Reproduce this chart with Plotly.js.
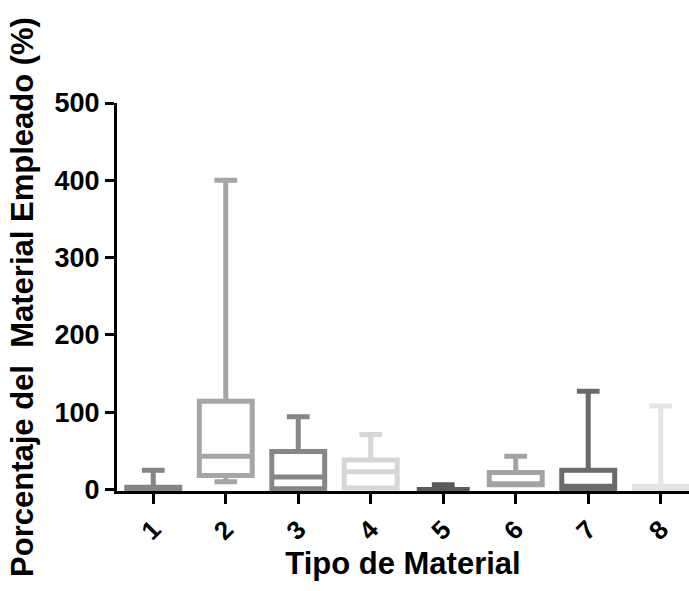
<!DOCTYPE html>
<html>
<head>
<meta charset="utf-8">
<script src="https://cdn.plot.ly/plotly-3.0.1.min.js"></script>
<style>
  html, body { margin: 0; padding: 0; background: #ffffff; }
  #chart { width: 689px; height: 591px; }
</style>
</head>
<body>
<div id="chart"></div>
<script>
// Data
const categories = ['1', '2', '3', '4', '5', '6', '7', '8'];
const lowerFence = [0, 10, 1, 2, 0, 6, 0, 0];
const q1Values = [0, 18, 1, 2, 0, 6, 0, 0];
const medianValues = [1, 43, 16, 23, 0, 7, 4, 2];
const q3Values = [3, 114, 49, 38, 0, 22, 25, 4];
const upperFence = [25, 400, 94, 71, 6, 43, 127, 108];
const boxColors = ['#858585', '#a5a5aa', '#878787', '#d6d6d6', '#5a5a5a', '#a3a3a3', '#6b6b6b', '#e5e5e5'];

const fontFamily = '"Liberation Sans", Arial, Helvetica, sans-serif';

const traces = categories.map((c, i) => ({
  type: 'box',
  x: [c],
  q1: [q1Values[i]],
  median: [medianValues[i]],
  q3: [q3Values[i]],
  lowerfence: [lowerFence[i]],
  upperfence: [upperFence[i]],
  width: 0.73,
  whiskerwidth: 0.43,
  fillcolor: 'rgba(255,255,255,0)',
  line: { color: boxColors[i], width: 5 },
  boxpoints: false,
  showlegend: false,
  hoverinfo: 'skip'
}));

const layout = {
  width: 689,
  height: 591,
  paper_bgcolor: '#ffffff',
  plot_bgcolor: '#ffffff',
  margin: { l: 117, r: 0, t: 103, b: 100, pad: 0 },
  boxmode: 'overlay',
  showlegend: false,
  xaxis: {
    type: 'category',
    categoryorder: 'array',
    categoryarray: categories,
    range: [-0.5, 7.39],
    showgrid: false,
    zeroline: false,
    showline: true,
    linecolor: '#000000',
    linewidth: 3,
    ticks: 'outside',
    ticklen: 10,
    tickwidth: 3,
    tickcolor: '#000000',
    tickangle: -45,
    tickfont: { family: fontFamily, size: 26, color: '#000000', weight: 'bold' },
    title: {
      text: 'Tipo de Material',
      font: { family: fontFamily, size: 31, color: '#000000', weight: 'bold' },
      standoff: 8
    }
  },
  yaxis: {
    range: [-2, 500],
    tickvals: [0, 100, 200, 300, 400, 500],
    ticktext: ['0', '100', '200', '300', '400', '500'],
    showgrid: false,
    zeroline: false,
    showline: true,
    linecolor: '#000000',
    linewidth: 3,
    ticks: 'outside',
    ticklen: 9,
    tickwidth: 3,
    tickcolor: '#000000',
    tickfont: { family: fontFamily, size: 27, color: '#000000', weight: 'bold' },
    title: {
      text: 'Porcentaje del\u00a0 Material Empleado (%)',
      font: { family: fontFamily, size: 31, color: '#000000', weight: 'bold' },
      standoff: 12
    }
  }
};

Plotly.newPlot('chart', traces, layout, { staticPlot: true, displayModeBar: false });
</script>
</body>
</html>
